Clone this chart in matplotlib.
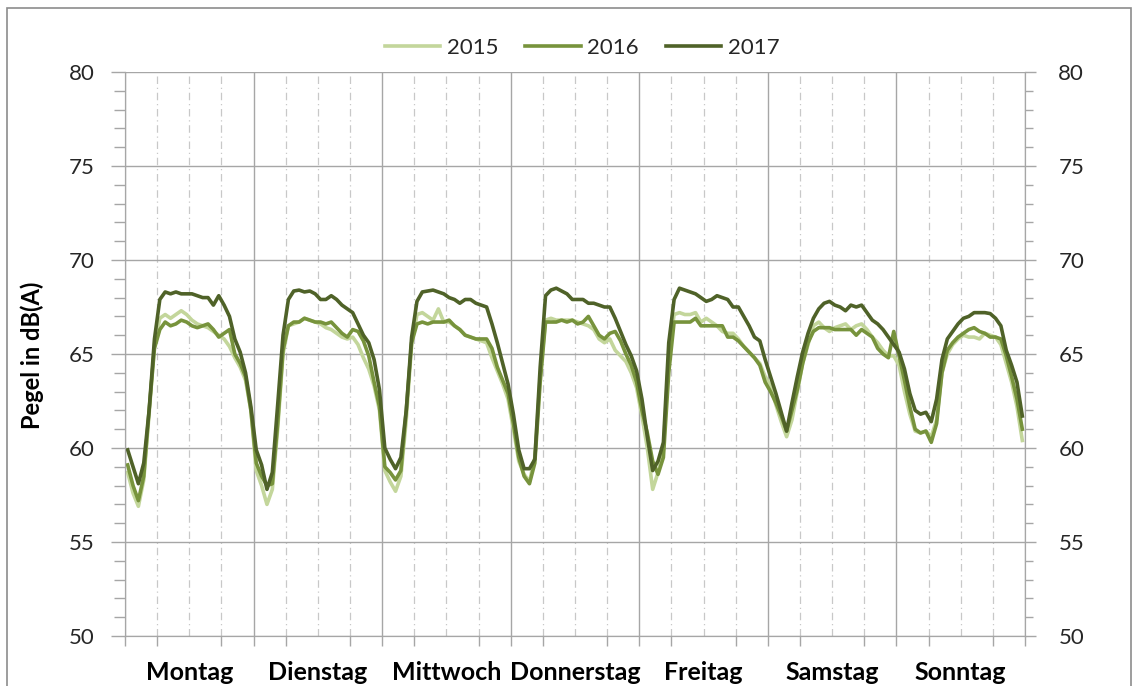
import numpy as np
import matplotlib
matplotlib.use("Agg")
import matplotlib.pyplot as plt
from matplotlib.patches import Rectangle

plt.rcParams["font.family"] = ["Lato", "DejaVu Sans"]

# hourly mean levels, Monday 0h .. Sunday 23h (one row per day)
days = ["Montag", "Dienstag", "Mittwoch", "Donnerstag", "Freitag", "Samstag", "Sonntag"]
years = ["2015", "2016", "2017"]

pegel_2015 = [
    58.7, 57.6, 56.9, 58.3, 61.8, 65.5, 66.9, 67.1, 66.9, 67.1, 67.3, 67.1, 66.8, 66.6, 66.5, 66.4, 66.2, 66.0, 65.8, 65.4, 64.8, 64.3, 63.6, 62.0,
    58.8, 58.0, 57.0, 57.8, 61.0, 65.0, 66.5, 66.6, 66.7, 66.9, 66.8, 66.7, 66.6, 66.4, 66.3, 66.1, 65.9, 65.8, 65.9, 65.5, 64.8, 64.2, 63.3, 62.0,
    58.8, 58.2, 57.7, 58.5, 61.5, 65.5, 67.1, 67.2, 67.0, 66.8, 67.4, 66.7, 66.7, 66.5, 66.3, 66.0, 65.9, 65.8, 65.7, 65.6, 64.8, 64.1, 63.4, 62.6,
    61.0, 59.3, 58.6, 58.2, 59.5, 63.8, 66.8, 66.9, 66.8, 66.8, 66.8, 66.8, 66.7, 66.6, 66.5, 66.3, 65.8, 65.6, 65.8, 65.2, 64.9, 64.6, 64.0, 63.2,
    61.7, 60.0, 57.8, 58.7, 59.9, 65.0, 67.1, 67.2, 67.1, 67.1, 67.2, 66.7, 66.9, 66.7, 66.5, 66.2, 66.1, 66.1, 65.8, 65.4, 65.1, 64.8, 64.5, 63.8,
    63.3, 62.3, 61.4, 60.6, 61.5, 63.0, 64.5, 65.5, 66.5, 66.7, 66.4, 66.2, 66.4, 66.5, 66.6, 66.3, 66.5, 66.6, 66.3, 65.9, 65.6, 65.2, 64.9, 64.9,
    64.4, 63.0, 61.8, 60.9, 60.8, 60.9, 60.6, 61.5, 64.0, 65.0, 65.5, 65.8, 66.0, 65.9, 65.9, 65.8, 66.1, 66.0, 65.9, 65.5, 64.5, 63.5, 62.2, 60.4,
]

pegel_2016 = [
    59.1, 58.0, 57.2, 58.5, 62.0, 65.3, 66.3, 66.7, 66.5, 66.6, 66.8, 66.7, 66.5, 66.4, 66.5, 66.6, 66.3, 65.9, 66.1, 66.3, 65.0, 64.5, 63.8, 62.0,
    59.2, 58.5, 58.0, 58.1, 61.3, 65.2, 66.5, 66.7, 66.7, 66.9, 66.8, 66.7, 66.7, 66.6, 66.7, 66.4, 66.1, 65.9, 66.3, 66.2, 65.7, 64.9, 63.5, 62.2,
    59.0, 58.7, 58.3, 58.8, 62.0, 65.6, 66.6, 66.7, 66.6, 66.7, 66.7, 66.7, 66.8, 66.5, 66.3, 66.0, 65.9, 65.8, 65.8, 65.8, 65.3, 64.3, 63.6, 62.9,
    61.3, 59.5, 58.5, 58.1, 59.2, 63.5, 66.7, 66.7, 66.7, 66.8, 66.7, 66.8, 66.6, 66.7, 67.0, 66.5, 66.0, 65.8, 66.1, 66.2, 65.7, 65.0, 64.4, 63.5,
    62.0, 60.8, 59.3, 58.6, 59.5, 64.0, 66.7, 66.7, 66.7, 66.7, 66.9, 66.5, 66.5, 66.5, 66.5, 66.5, 65.9, 65.9, 65.7, 65.4, 65.1, 64.8, 64.4, 63.5,
    63.0, 62.4, 61.7, 60.9, 62.0, 63.1, 64.5, 65.6, 66.2, 66.4, 66.4, 66.4, 66.3, 66.3, 66.3, 66.3, 66.0, 66.3, 66.1, 65.9, 65.3, 65.0, 64.8, 66.2,
    64.9, 63.6, 62.2, 61.0, 60.8, 60.9, 60.3, 61.3, 64.0, 65.2, 65.6, 65.9, 66.1, 66.3, 66.4, 66.2, 66.1, 65.9, 65.9, 65.8, 64.9, 63.8, 62.6, 61.0,
]

pegel_2017 = [
    59.9, 59.0, 58.1, 59.2, 62.0, 65.8, 67.9, 68.3, 68.2, 68.3, 68.2, 68.2, 68.2, 68.1, 68.0, 68.0, 67.6, 68.1, 67.6, 67.0, 65.8, 65.1, 64.0, 62.2,
    59.9, 59.1, 57.8, 58.7, 62.3, 66.0, 67.9, 68.35, 68.4, 68.3, 68.35, 68.2, 67.9, 67.9, 68.1, 67.9, 67.6, 67.4, 67.2, 66.6, 66.0, 65.6, 64.7, 63.1,
    60.0, 59.4, 58.9, 59.5, 62.0, 65.9, 67.8, 68.3, 68.35, 68.4, 68.3, 68.2, 68.0, 67.9, 67.7, 67.9, 67.9, 67.7, 67.6, 67.5, 66.6, 65.6, 64.5, 63.4,
    61.8, 59.9, 58.9, 58.9, 59.4, 64.3, 68.1, 68.4, 68.5, 68.35, 68.2, 67.9, 67.9, 67.9, 67.7, 67.7, 67.6, 67.5, 67.5, 66.9, 66.2, 65.5, 64.9, 64.1,
    62.6, 60.6, 58.8, 59.3, 60.3, 65.6, 67.9, 68.5, 68.4, 68.3, 68.2, 68.0, 67.8, 67.9, 68.1, 68.0, 67.9, 67.5, 67.5, 67.0, 66.5, 65.9, 65.7, 64.7,
    63.8, 62.9, 61.9, 60.9, 62.4, 63.8, 65.1, 66.1, 66.9, 67.4, 67.7, 67.8, 67.6, 67.5, 67.3, 67.6, 67.5, 67.6, 67.2, 66.8, 66.6, 66.3, 65.9, 65.5,
    65.1, 64.2, 62.9, 62.0, 61.8, 61.9, 61.4, 62.6, 64.7, 65.8, 66.2, 66.6, 66.9, 67.0, 67.2, 67.2, 67.2, 67.15, 66.9, 66.5, 65.2, 64.4, 63.5, 61.7,
]

colors = ["#c3d69b", "#77933c", "#4f6228"]
grid_col = "#a6a6a6"
text_col = "#262626"

fig = plt.figure(figsize=(11.35, 6.86), dpi=100)
W, H = 1135, 686
ax = fig.add_axes([125 / W, 1 - 636 / H, (1025 - 125) / W, (636 - 72) / H])

hours = np.arange(len(pegel_2015))
for vals, year, col in zip([pegel_2015, pegel_2016, pegel_2017], years, colors):
    ax.plot(hours, vals, color=col, lw=2.6, label=year, solid_joinstyle="round", zorder=3)

ax.set_xlim(-0.5, len(hours) - 0.5)
ax.set_ylim(50, 80)

# grid: solid at day borders, dash-dot every 6 hours
day_edges = np.arange(0, len(days) + 1) * 24 - 0.5
six_hours = np.arange(0, len(days) * 4 + 1) * 6 - 0.5
for x in six_hours:
    if x in day_edges:
        ax.axvline(x, color=grid_col, lw=1.0, zorder=1)
    else:
        ax.axvline(x, color="#c8c8c8", lw=0.9, dashes=(6, 3, 1, 3), zorder=1)
for y in np.arange(50, 81, 5):
    ax.axhline(y, color=grid_col, lw=1.0, zorder=1)

# x axis: day names centred, ticks every 6 hours
ax.set_xticks(np.arange(len(days)) * 24 + 11.5)
ax.set_xticklabels(days, fontsize=18, fontweight="bold", color="black")
ax.tick_params(axis="x", which="major", length=0, pad=18)
ax.set_xticks(six_hours, minor=True)
ax.tick_params(axis="x", which="minor", length=7, width=1, color=grid_col)

# y axes on both sides
ax.set_yticks(np.arange(50, 81, 5))
ax.set_yticks(np.arange(50, 81, 1), minor=True)
ax.tick_params(axis="y", which="major", length=10, width=1, color=grid_col, labelsize=16, labelcolor=text_col, pad=12)
ax.tick_params(axis="y", which="minor", length=8, width=1, color=grid_col)

ax2 = ax.twinx()
ax2.set_ylim(ax.get_ylim())
ax2.set_yticks(np.arange(50, 81, 5))
ax2.set_yticks(np.arange(50, 81, 1), minor=True)
ax2.tick_params(axis="y", which="major", length=8, width=1, color=grid_col, labelsize=16, labelcolor=text_col, pad=16)
ax2.tick_params(axis="y", which="minor", length=6, width=1, color=grid_col)

for a in (ax, ax2):
    for side in ["left", "right", "bottom"]:
        a.spines[side].set_color(grid_col)
    a.spines["top"].set_visible(False)

fig.text(32 / W, 1 - 355 / H, "Pegel in dB(A)", rotation=90, ha="center", va="center",
         fontsize=17, fontweight="bold", color="black")

ax.legend(loc="center", bbox_to_anchor=(582 / W, 1 - 48 / H), bbox_transform=fig.transFigure,
          ncol=3, frameon=False, fontsize=16, handlelength=2.5, handletextpad=0.3,
          columnspacing=1.2, labelcolor=text_col)

# thin frame around the chart area
fig.patches.append(Rectangle((7 / W, -0.05), (1131 - 7) / W, 1.05 - 8 / H, transform=fig.transFigure,
                             fill=False, edgecolor="#8c8c8c", lw=1.2))

fig.savefig("out.png", dpi=100)
